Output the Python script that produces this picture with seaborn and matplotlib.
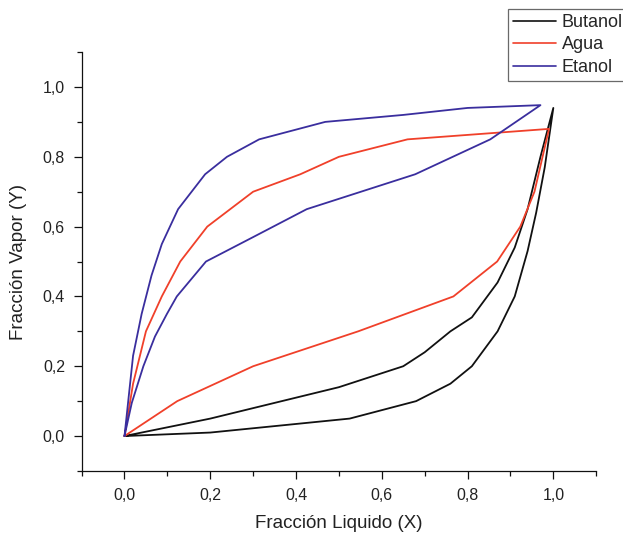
import numpy as np
import pandas as pd
import matplotlib
matplotlib.use("Agg")
import matplotlib.pyplot as plt
from matplotlib.ticker import MultipleLocator, FuncFormatter
import seaborn as sns

# Curvas de equilibrio liquido-vapor (rama superior y rama inferior de cada componente)
series = ["Butanol", "Agua", "Etanol"]

butanol_sup_x = [0.0, 0.1, 0.2, 0.3, 0.4, 0.5, 0.65, 0.70, 0.76, 0.81, 0.87, 0.91, 0.94, 0.97, 1.0]
butanol_sup_y = [0.0, 0.025, 0.05, 0.08, 0.11, 0.14, 0.20, 0.24, 0.30, 0.34, 0.44, 0.54, 0.65, 0.80, 0.94]
butanol_inf_x = [0.0, 0.2, 0.525, 0.68, 0.76, 0.81, 0.87, 0.91, 0.94, 0.96, 0.98, 1.0]
butanol_inf_y = [0.0, 0.01, 0.05, 0.10, 0.15, 0.20, 0.30, 0.40, 0.53, 0.64, 0.77, 0.94]

agua_sup_x = [0.0, 0.02, 0.05, 0.087, 0.13, 0.193, 0.30, 0.41, 0.50, 0.66, 0.99]
agua_sup_y = [0.0, 0.15, 0.30, 0.40, 0.50, 0.60, 0.70, 0.75, 0.80, 0.85, 0.88]
agua_inf_x = [0.0, 0.123, 0.30, 0.545, 0.767, 0.869, 0.923, 0.956, 0.99]
agua_inf_y = [0.0, 0.10, 0.20, 0.30, 0.40, 0.50, 0.60, 0.70, 0.88]

etanol_sup_x = [0.0, 0.02, 0.04, 0.063, 0.087, 0.125, 0.188, 0.239, 0.314, 0.468, 0.65, 0.80, 0.97]
etanol_sup_y = [0.0, 0.23, 0.35, 0.46, 0.55, 0.65, 0.75, 0.80, 0.85, 0.90, 0.92, 0.94, 0.948]
etanol_inf_x = [0.0, 0.017, 0.044, 0.071, 0.099, 0.122, 0.19, 0.30, 0.425, 0.678, 0.853, 0.97]
etanol_inf_y = [0.0, 0.095, 0.20, 0.285, 0.35, 0.40, 0.50, 0.57, 0.65, 0.75, 0.85, 0.948]

colores = {"Butanol": "#111111", "Agua": "#F0402A", "Etanol": "#3A2E9E"}


def lazo(nombre, sx, sy, ix, iy):
    # recorre la rama superior y vuelve por la inferior
    xs = list(sx) + list(ix[::-1])
    ys = list(sy) + list(iy[::-1])
    return pd.DataFrame({"x": xs, "y": ys, "serie": nombre, "orden": range(len(xs))})


df = pd.concat([
    lazo("Butanol", butanol_sup_x, butanol_sup_y, butanol_inf_x, butanol_inf_y),
    lazo("Agua", agua_sup_x, agua_sup_y, agua_inf_x, agua_inf_y),
    lazo("Etanol", etanol_sup_x, etanol_sup_y, etanol_inf_x, etanol_inf_y),
], ignore_index=True)

sns.set_theme(style="ticks")
plt.rcParams["font.family"] = ["Liberation Sans", "DejaVu Sans"]

fig = plt.figure(figsize=(6.23, 5.37), dpi=100)
ax = fig.add_axes([0.131, 0.123, 0.826, 0.780])

sns.lineplot(data=df, x="x", y="y", hue="serie", hue_order=series, palette=colores,
             sort=False, estimator=None, units="serie", linewidth=1.3, ax=ax, legend=False)

ax.set_xlim(-0.1, 1.1)
ax.set_ylim(-0.1, 1.1)

coma = FuncFormatter(lambda v, p: f"{v:.1f}".replace(".", ","))
ax.xaxis.set_minor_locator(MultipleLocator(0.1))
ax.yaxis.set_minor_locator(MultipleLocator(0.1))
ax.set_xticks([0.0, 0.2, 0.4, 0.6, 0.8, 1.0])
ax.set_yticks([0.0, 0.2, 0.4, 0.6, 0.8, 1.0])
ax.xaxis.set_major_formatter(coma)
ax.yaxis.set_major_formatter(coma)

for s in ["top", "right"]:
    ax.spines[s].set_visible(False)
for s in ["left", "bottom"]:
    ax.spines[s].set_linewidth(0.9)
    ax.spines[s].set_color("#111111")

ax.tick_params(which="major", direction="out", length=6, width=0.9, color="#111111",
               labelsize=11.5, labelcolor="#222222", pad=6)
ax.tick_params(which="minor", direction="out", length=3.5, width=0.9, color="#111111")

ax.set_xlabel("Fracción Liquido (X)", fontsize=13.5, color="#222222", labelpad=9)
ax.set_ylabel("Fracción Vapor (Y)", fontsize=13.5, color="#222222", labelpad=11)

handles = [plt.Line2D([], [], color=colores[s], linewidth=1.2) for s in series]
leg = fig.legend(handles, series, loc="upper left", bbox_to_anchor=(0.815, 0.984),
                 frameon=True, fancybox=False, fontsize=13, handlelength=2.4,
                 handletextpad=0.3, labelspacing=0.3, borderpad=0.3, borderaxespad=0)
leg.get_frame().set_edgecolor("#444444")
leg.get_frame().set_linewidth(0.9)

fig.savefig("out.png", dpi=100)
